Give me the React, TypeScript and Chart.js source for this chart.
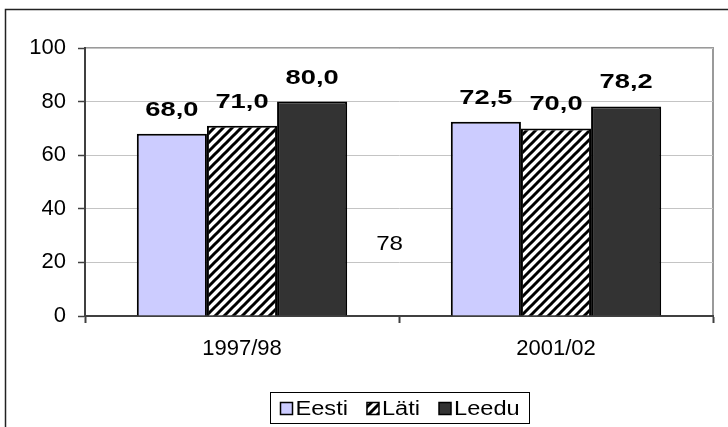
import React, { useEffect, useRef } from 'react';
import { Chart, registerables } from 'chart.js';

Chart.register(...registerables);

const categories = ['1997/98', '2001/02'];
const seriesNames = ['Eesti', 'Läti', 'Leedu'];
const eestiValues = [68.0, 72.5];
const latiValues = [71.0, 70.0];
const leeduValues = [80.0, 78.2];
const yMin = 0;
const yMax = 100;
const yStep = 20;
const strayLabel = '78';
const strayLabelPos = { x: 0.47, y: 25 };

const FONT = "'Liberation Sans', Arial, sans-serif";

function makeHatch(): CanvasPattern | string {
  const t = 9;
  const c = document.createElement('canvas');
  c.width = t;
  c.height = t;
  const g = c.getContext('2d');
  if (!g) return '#888';
  g.fillStyle = '#ffffff';
  g.fillRect(0, 0, t, t);
  g.strokeStyle = '#000000';
  g.lineWidth = 3;
  g.lineCap = 'square';
  const seg = (x1: number, y1: number, x2: number, y2: number) => {
    g.beginPath();
    g.moveTo(x1, y1);
    g.lineTo(x2, y2);
    g.stroke();
  };
  seg(-1, t + 1, t + 1, -1);
  seg(-t / 2 - 1, t / 2 + 1, t / 2 + 1, -t / 2 - 1);
  seg(t / 2 - 1, t * 1.5 + 1, t * 1.5 + 1, t / 2 - 1);
  const p = document.createElement('canvas').getContext('2d')!.createPattern(c, 'repeat');
  return p || '#888';
}

function stretchedText(ctx: CanvasRenderingContext2D, text: string, x: number, y: number, sx: number) {
  ctx.save();
  ctx.translate(x, y);
  ctx.scale(sx, 1);
  ctx.fillText(text, 0, 0);
  ctx.restore();
}

export default function App() {
  const ref = useRef<HTMLCanvasElement | null>(null);

  useEffect(() => {
    document.body.style.margin = '0';
    const canvas = ref.current;
    if (!canvas) return;
    const hatch = makeHatch();
    const fills = ['#ccccff', hatch, '#333333'];

    const decor = {
      id: 'decor',
      beforeDraw(chart: any) {
        const ctx = chart.ctx;
        const a = chart.chartArea;
        ctx.save();
        ctx.fillStyle = '#ffffff';
        ctx.fillRect(0, 0, chart.width, chart.height);
        ctx.strokeStyle = '#222222';
        ctx.lineWidth = 1.5;
        ctx.strokeRect(5.5, 9.5, chart.width + 20, chart.height + 20);
        ctx.strokeStyle = '#9a9a9a';
        ctx.lineWidth = 2;
        ctx.strokeRect(a.left, a.top, a.right - a.left, a.bottom - a.top);
        ctx.restore();
      },
      afterDatasetsDraw(chart: any) {
        const ctx = chart.ctx;
        const a = chart.chartArea;
        ctx.save();
        ctx.fillStyle = '#000000';
        ctx.font = `bold 21px ${FONT}`;
        ctx.textAlign = 'center';
        ctx.textBaseline = 'alphabetic';
        chart.data.datasets.forEach((ds: any, di: number) => {
          const meta = chart.getDatasetMeta(di);
          meta.data.forEach((bar: any, i: number) => {
            const v = ds.data[i] as number;
            stretchedText(ctx, v.toFixed(1).replace('.', ','), bar.x, bar.y - 18, 1.3);
          });
        });
        ctx.font = `21px ${FONT}`;
        const sx = chart.scales.x.getPixelForValue(strayLabelPos.x);
        const sy = chart.scales.y.getPixelForValue(strayLabelPos.y);
        stretchedText(ctx, strayLabel, sx, sy + 1, 1.15);

        // legend
        ctx.font = `20px ${FONT}`;
        const tsx = 1.18;
        const marker = 12;
        const gap = 3;
        const spacing = 19;
        const pad = 10;
        const widths = seriesNames.map((n) => marker + gap + ctx.measureText(n).width * tsx);
        const total = widths.reduce((s, w) => s + w, 0) + spacing * (widths.length - 1);
        const boxW = Math.round(total + pad * 2);
        const cx = (a.left + a.right) / 2;
        const boxL = Math.round(cx - boxW / 2) + 0.5;
        const boxT = 392.5;
        const boxH = 31;
        ctx.strokeStyle = '#000000';
        ctx.lineWidth = 1;
        ctx.strokeRect(boxL, boxT, boxW, boxH);
        let x = boxL + pad;
        ctx.textAlign = 'left';
        seriesNames.forEach((n, i) => {
          ctx.fillStyle = fills[i] as any;
          ctx.fillRect(x, 402.5, marker, marker);
          ctx.strokeStyle = '#000000';
          ctx.lineWidth = 1.5;
          ctx.strokeRect(x, 402.5, marker, marker);
          ctx.fillStyle = '#000000';
          stretchedText(ctx, n, x + marker + gap, 415, tsx);
          x += widths[i] + spacing;
        });
        ctx.restore();
      },
    };

    const chart = new Chart(canvas, {
      type: 'bar',
      data: {
        labels: categories,
        datasets: [
          { label: seriesNames[0], data: eestiValues, backgroundColor: fills[0] as any, borderColor: '#000', borderWidth: 2 },
          { label: seriesNames[1], data: latiValues, backgroundColor: fills[1] as any, borderColor: '#000', borderWidth: 2 },
          { label: seriesNames[2], data: leeduValues, backgroundColor: fills[2] as any, borderColor: '#000', borderWidth: 2 },
        ],
      },
      options: {
        responsive: false,
        animation: false,
        layout: { padding: { left: 0, top: 48, right: 15, bottom: 0 } },
        datasets: { bar: { categoryPercentage: 0.67, barPercentage: 1.0 } },
        plugins: { legend: { display: false }, tooltip: { enabled: false } },
        scales: {
          x: {
            offset: true,
            grid: { drawOnChartArea: false, drawTicks: true, tickLength: 7, tickColor: '#404040', offset: true, tickWidth: 2 },
            border: { color: '#404040', width: 2 },
            ticks: { color: '#000', font: { family: FONT, size: 22 }, padding: 13 },
            afterFit: (s: any) => { s.height = 111; },
          },
          y: {
            min: yMin,
            max: yMax,
            grid: { color: '#c4c4c4', lineWidth: 1, tickLength: 7, tickColor: '#404040', tickWidth: 1.5 },
            border: { color: '#404040', width: 2 },
            ticks: { stepSize: yStep, color: '#000', font: { family: FONT, size: 22 }, padding: 12 },
            afterFit: (s: any) => { s.width = 85; },
          },
        },
      },
      plugins: [decor],
    } as any);

    return () => chart.destroy();
  }, []);

  return <canvas ref={ref} width={728} height={427} style={{ display: 'block' }} />;
}
